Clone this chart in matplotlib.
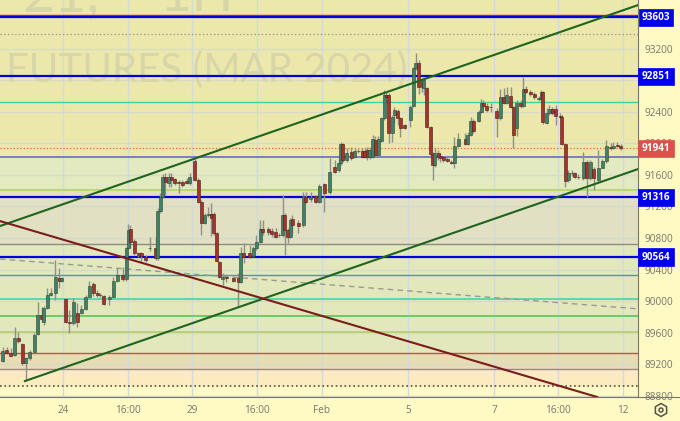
import matplotlib
matplotlib.use("Agg")
import matplotlib.pyplot as plt
from matplotlib.patches import RegularPolygon, Circle
from matplotlib.transforms import IdentityTransform

plt.rcParams["font.family"] = ["Open Sans", "DejaVu Sans"]

# bar position on the time axis (bar slots)
bar_t = [0, 1.1, 2.3, 3.4, 4.4, 5.6, 6.6, 7.7, 8.9, 10, 11, 11.7, 12.6, 13.6, 14.9, 16, 16.7, 17.8, 18.9, 20,
         21.1, 22.2, 23.5, 24.5, 25.6, 26.8, 27.7, 28.7, 30.2, 31.3, 32.5, 34, 35, 35.6, 36.2, 37.2, 38.4, 39.3, 40.5, 41.7,
         43.3, 43.9, 44.7, 45.3, 46.1, 47.1, 47.8, 48.8, 49.9, 50.8, 52.1, 53, 54.4, 55.4, 56.3, 57.3, 58.2, 59.1, 59.8, 60.7,
         61.3, 62.4, 63.4, 65.3, 66.7, 67.4, 68.3, 70, 71, 71.9, 72.9, 73.6, 75.2, 76.2, 77.4, 78.3, 79.3, 79.9, 80.7, 81.4,
         82, 83.7, 85.1, 85.8, 87.2, 88.7, 89.7, 91.1, 92.7, 94.1, 95.2, 95.8, 96.4, 97.4, 98.8, 99.7, 100.7, 101.9, 102.6, 103.3,
         104, 104.8, 105.6, 106.4, 107.3, 108.1, 108.6, 109.4, 110.4, 110.9, 111.9, 112.6, 113.9, 115.4, 116.3, 117, 117.9, 118.8, 119.3, 120.1,
         121.2, 121.8, 122.4, 123.4, 124, 124.8, 125.9, 127.1, 127.9, 129, 131, 131.7, 132.6, 133.3, 134.8, 135.5, 136.2, 137.1, 138.3, 139.9,
         140.9, 142, 142.8, 143.9, 144.7, 145.6, 146.7, 147.5, 148.2, 149.4, 150.6, 151.9, 152.6, 153, 154.1, 154.8, 155.7, 156.7, 157.9, 158.4,
         159.3, 160.2, 161.2, 162.1, 163, 164.5, 165.4, 166.5, 167.5, 168.7, 169.8, 171, 172.2, 173, 174.1, 175.1]

opens = [89246, 89382, 89339, 89318, 89538, 89453, 89221, 89276, 89361, 89584, 89825, 89740, 89909, 90078, 90107, 90297, 90259, 90023, 89740, 89719,
         89854, 89854, 89896, 90048, 90217, 90099, 90082, 90065, 90023, 90048, 90259, 90331, 90276, 90669, 90909, 90766, 90605, 90605, 90563, 90677,
         90677, 90543, 91142, 91323, 91576, 91500, 91576, 91543, 91513, 91513, 91526, 91492, 91775, 91534, 91260, 90994, 91091, 91104, 91104, 90859,
         90500, 90277, 90310, 90289, 90289, 90247, 90614, 90614, 90572, 90669, 90754, 90910, 90910, 90889, 90880, 90842, 90838, 91091, 90901, 90817,
         91036, 90986, 90965, 91323, 91294, 91332, 91260, 91484, 91387, 91703, 91661, 91745, 91990, 91788, 91885, 91830, 91906, 91906, 91907, 91915,
         91831, 91831, 92042, 91852, 92033, 92316, 92611, 92611, 92134, 92358, 92413, 92316, 92231, 92295, 92472, 92949, 93021, 92793, 92696, 92696,
         92202, 91864, 91725, 91873, 91839, 91822, 91797, 91767, 91746, 91966, 92050, 91991, 92105, 92286, 92286, 92400, 92506, 92476, 92464, 92409,
         92316, 92582, 92514, 92599, 92455, 92189, 92514, 92472, 92683, 92645, 92624, 92561, 92561, 92645, 92261, 92379, 92430, 92430, 92345, 92337,
         91991, 91535, 91628, 91620, 91577, 91556, 91767, 91556, 91674, 91535, 91691, 91776, 91957, 91936, 91974, 91966]

closes = [89373, 89348, 89310, 89529, 89500, 89221, 89276, 89361, 89571, 89825, 89770, 89909, 90078, 90107, 90310, 90259, 90297, 89740, 89719, 89993,
          89740, 89896, 90048, 90192, 90099, 90078, 90074, 89964, 90048, 90259, 90331, 90276, 90669, 90901, 90753, 90605, 90584, 90572, 90521, 90672,
          90550, 91142, 91323, 91576, 91505, 91576, 91534, 91492, 91500, 91471, 91492, 91568, 91534, 91260, 90994, 91091, 91104, 91049, 90859, 90509,
          90310, 90310, 90289, 90260, 90247, 90606, 90564, 90564, 90669, 90754, 90910, 90880, 90880, 90851, 90817, 90838, 91091, 90901, 90817, 91028,
          90965, 90956, 91332, 91260, 91323, 91260, 91458, 91374, 91640, 91640, 91745, 91990, 91788, 91872, 91809, 91906, 91898, 91830, 91822, 91831,
          91915, 92050, 91852, 92050, 92316, 92611, 92590, 92134, 92337, 92421, 92316, 92189, 92189, 92464, 92949, 93021, 92717, 92717, 92801, 92202,
          91864, 91725, 91873, 91831, 91809, 91788, 91780, 91755, 91966, 92050, 91991, 92105, 92286, 92156, 92400, 92514, 92472, 92421, 92460, 92316,
          92582, 92514, 92611, 92455, 92105, 92514, 92472, 92683, 92653, 92624, 92582, 92570, 92645, 92265, 92379, 92430, 92379, 92345, 92337, 91991,
          91527, 91628, 91620, 91577, 91573, 91767, 91556, 91767, 91556, 91691, 91776, 91970, 91936, 91970, 91966, 91936]

highs = [89424, 89424, 89403, 89677, 89614, 89466, 89297, 89382, 89593, 89994, 89930, 89939, 90162, 90162, 90521, 90415, 90310, 90036, 89888, 90036,
         89972, 89951, 90078, 90259, 90247, 90141, 90107, 90078, 90078, 90310, 90415, 90437, 90690, 90977, 90964, 90783, 90626, 90626, 90584, 90816,
         90816, 91175, 91365, 91610, 91619, 91619, 91627, 91555, 91534, 91534, 91555, 91619, 91796, 91555, 91281, 91112, 91197, 91239, 91133, 90880,
         90513, 90353, 90332, 90310, 90353, 90690, 90732, 90712, 90699, 90838, 91028, 91028, 90944, 90923, 90923, 90860, 91345, 91112, 90923, 91049,
         91091, 91028, 91387, 91387, 91387, 91345, 91484, 91501, 91809, 91788, 91800, 92020, 92007, 91935, 91956, 91935, 91925, 91935, 91940, 91957,
         91950, 92105, 92092, 92092, 92337, 92675, 92650, 92632, 92358, 92464, 92440, 92337, 92250, 92485, 92970, 93147, 93054, 92825, 92825, 92717,
         92219, 91893, 91936, 91915, 91873, 91830, 91822, 91788, 92075, 92126, 92126, 92147, 92337, 92303, 92421, 92556, 92548, 92505, 92505, 92443,
         92683, 92696, 92708, 92708, 92472, 92548, 92548, 92843, 92725, 92675, 92653, 92600, 92675, 92666, 92443, 92485, 92464, 92485, 92380, 92358,
         92007, 91662, 91662, 91640, 91611, 91894, 91788, 91788, 91704, 91915, 91797, 92042, 92008, 92020, 92020, 91991]

lows = [89234, 89331, 89306, 89310, 89466, 89192, 88993, 89255, 89432, 89571, 89740, 89698, 89900, 90065, 90015, 90162, 90247, 89719, 89601, 89698,
        89668, 89837, 89888, 90036, 90065, 90057, 90048, 89951, 89951, 90036, 90247, 90259, 90259, 90656, 90669, 90584, 90563, 90500, 90500, 90640,
        90521, 90521, 91112, 91302, 91344, 91441, 91450, 91471, 91365, 91441, 91484, 91471, 91526, 91247, 90838, 90977, 91070, 90825, 90838, 90500,
        90289, 90205, 90247, 90239, 89931, 90234, 90479, 90543, 90555, 90648, 90733, 90838, 90838, 90817, 90796, 90818, 90817, 90585, 90733, 90796,
        90859, 90859, 90944, 91239, 91260, 91239, 91239, 91133, 91357, 91627, 91640, 91724, 91766, 91766, 91788, 91809, 91875, 91809, 91809, 91788,
        91795, 91809, 91831, 91831, 92020, 92295, 92506, 91999, 92020, 92253, 92232, 92075, 92177, 92210, 92455, 92928, 92624, 92654, 92611, 92190,
        91850, 91535, 91704, 91788, 91767, 91767, 91767, 91738, 91683, 91950, 91978, 91978, 92092, 92135, 92273, 92380, 92443, 92400, 92400, 92084,
        92295, 92497, 92497, 92442, 91936, 92092, 92442, 92455, 92632, 92598, 92556, 92540, 92548, 92244, 92244, 92358, 92358, 92231, 92316, 91978,
        91451, 91514, 91586, 91556, 91543, 91535, 91324, 91535, 91409, 91514, 91683, 91755, 91915, 91922, 91949, 91915]

# horizontal levels
blue_levels = [93603, 92851, 91316, 90564]
level_prices = [93380, 92522, 91941, 91830, 91408, 90727, 90337, 90030, 89817, 89603, 89340, 89143, 88920]
level_colors = ["#a09c88", "#3cd2a0", "#e8604c", "#6a6cc8", "#b4d868", "#8c8c84", "#3a9ad0",
                "#64d4a8", "#68cc68", "#b0cc60", "#d84848", "#9880a8", "#505048"]
level_styles = [":", "-", ":", "-", "-", "-", "-", "-", "-", "-", "-", "-", ":"]
level_widths = [1, 1, 0.9, 1.2, 1.3, 1, 1, 1.4, 1.4, 1.1, 1, 1, 1.2]

# background bands, top to bottom
band_edges = [93815, 91830, 91408, 90727, 89340, 89143, 88920, 88785]
band_colors = ["#ece8ac", "#e3e9c0", "#e1e0c2", "#e2e8bc", "#e9dcb2", "#fdebc0", "#fff9c6"]

# trend lines
upper_x, upper_y = [-0.76, 180], [90951, 93751]
lower_x, lower_y = [6.3, 180], [88987, 91673]
red_x, red_y = [-0.76, 168.4], [91014, 88785]
dash_x, dash_y = [-0.76, 179.7], [90533, 89903]

grid_prices = [93600, 93200, 92800, 92400, 92000, 91600, 91200, 90800, 90400, 90000, 89600, 89200, 88800]
price_ticks = [93200, 92400, 92000, 91600, 91200, 90800, 90400, 90000, 89600, 89200, 88800]
grid_t = [17.1, 35.5, 53.6, 72, 90.4, 114.8, 139.2, 157.3, 175.7]
grid_labels = ["24", "16:00", "29", "16:00", "Feb", "5", "7", "16:00", "12"]
tag_prices = [93603, 92851, 91941, 91316, 90564]
tag_colors = ["#0000f0", "#0000f0", "#d9534a", "#0000f0", "#0000f0"]

fig = plt.figure(figsize=(6.8, 4.21), dpi=100, facecolor="#fff9c4")
ax = fig.add_axes([0, 24 / 421, 638 / 680, 397 / 421])
ax.set_xlim(-0.76, 179.97)
ax.set_ylim(88785, 93815)

for i in range(len(band_colors)):
    ax.axhspan(band_edges[i + 1], band_edges[i], color=band_colors[i], lw=0, zorder=0)

for t in grid_t:
    ax.axvline(t, color="#d2dadc", lw=1, zorder=1)
for p in grid_prices:
    ax.axhline(p, color="#d6dacc", lw=1, zorder=1)

# watermark, cut off by the top of the chart like the original
ax.text(22 / 638, (397 - 11) / 397, "21,", transform=ax.transAxes, fontsize=40, family="Lato",
        color="#d8d6a8", va="baseline", zorder=1.5, clip_on=True)
ax.text(160 / 638, (397 - 11) / 397, "1H", transform=ax.transAxes, fontsize=40, family="Lato",
        color="#d8d6a8", va="baseline", zorder=1.5, clip_on=True)
ax.text(6 / 638, (397 - 82) / 397, "FUTURES (MAR 2024)", transform=ax.transAxes, fontsize=29, family="Lato",
        color="#d8d6a8", va="baseline", zorder=1.5, clip_on=True)

for p, c, s, w in zip(level_prices, level_colors, level_styles, level_widths):
    ax.axhline(p, color=c, ls=s, lw=w, zorder=2)
ax.axhline(93620, color="#d02020", lw=1, zorder=2.5)
for p in blue_levels:
    ax.axhline(p, color="#0000e0", lw=1.6, zorder=3)

ax.plot(dash_x, dash_y, color="#9a9a90", lw=1, ls=(0, (4, 3)), zorder=3)

# candles
for t, o, h, l, c in zip(bar_t, opens, highs, lows, closes):
    ax.vlines(t, l, h, color="#8e9088", lw=1, zorder=4)
    up = c >= o
    ax.bar(t, abs(c - o), bottom=min(o, c), width=0.85,
           color="#41806a" if up else "#a8322c",
           edgecolor="#2a4a2a" if up else "#4a1a14", lw=0.4, zorder=5)

ax.plot(upper_x, upper_y, color="#1e641e", lw=1.5, zorder=6)
ax.plot(lower_x, lower_y, color="#1e641e", lw=1.5, zorder=6)
ax.plot(red_x, red_y, color="#7a1c1c", lw=1.5, zorder=6)

ax.set_xticks(grid_t)
ax.set_xticklabels(grid_labels)
ax.yaxis.tick_right()
ax.set_yticks(price_ticks)
ax.set_yticklabels([str(p) for p in price_ticks])
ax.tick_params(axis="both", length=0, labelsize=7.2, labelcolor="#77776c")
ax.tick_params(axis="y", pad=5)
ax.tick_params(axis="x", pad=6)
for side in ["top", "left"]:
    ax.spines[side].set_visible(False)
ax.spines["right"].set_color("#77776c")
ax.spines["bottom"].set_color("#77776c")
fig.add_artist(plt.Line2D([638 / 680, 1], [24 / 421, 24 / 421], color="#77776c", lw=0.8))

for p, c in zip(tag_prices, tag_colors):
    ax.annotate(str(p), xy=(1, p), xycoords=("axes fraction", "data"), xytext=(18, -0.5),
                textcoords="offset pixels", ha="center", va="center", fontsize=7.2, fontweight="bold",
                color="white", zorder=10, annotation_clip=False,
                bbox=dict(boxstyle="square,pad=0.32", fc=c, ec=c, lw=0.5))

# settings icon at the corner
fig.add_artist(RegularPolygon((661, 11), 6, radius=6.5, fill=False, ec="#55554c", lw=1.1,
                              transform=IdentityTransform()))
fig.add_artist(Circle((661, 11), 2, fill=False, ec="#55554c", lw=1.1, transform=IdentityTransform()))

fig.savefig("out.png", dpi=100)
